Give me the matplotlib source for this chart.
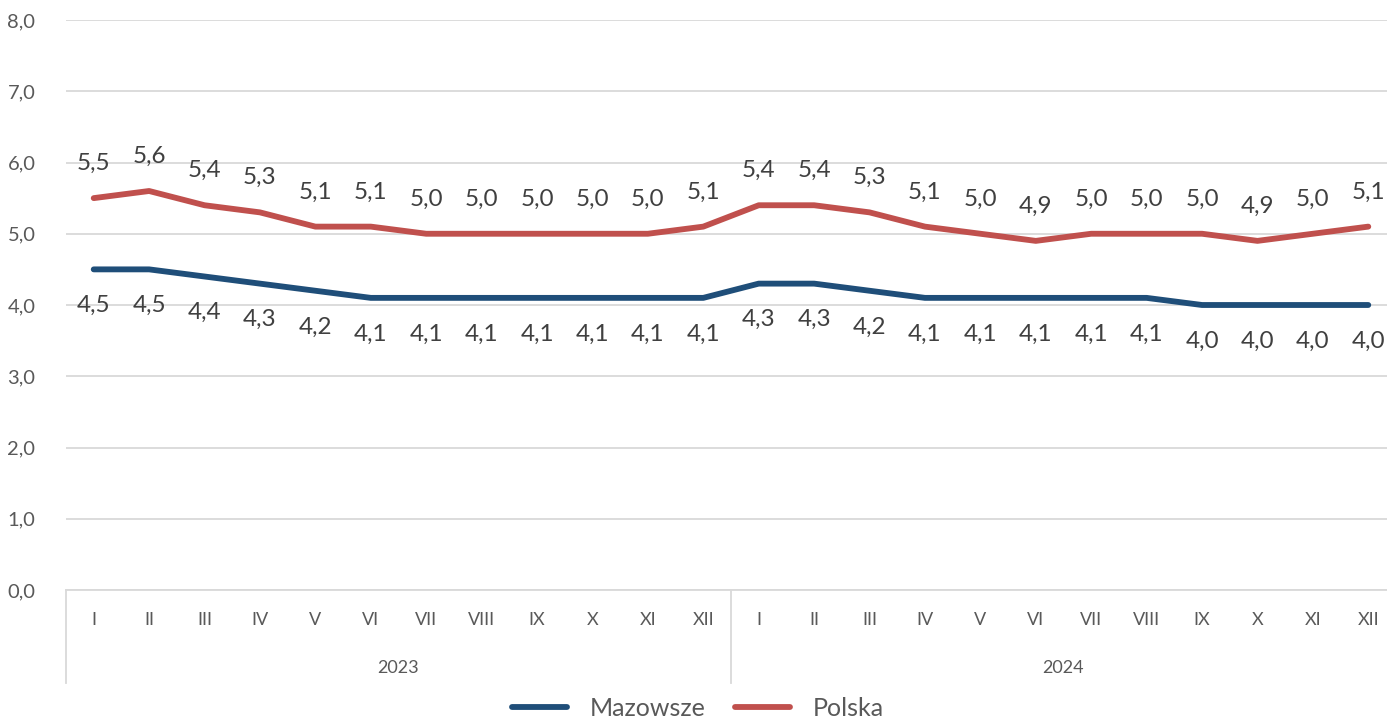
import matplotlib
matplotlib.use("Agg")
import matplotlib.pyplot as plt
from matplotlib.lines import Line2D

plt.rcParams['font.family'] = ['Lato', 'DejaVu Sans']

months = ["I", "II", "III", "IV", "V", "VI", "VII", "VIII", "IX", "X", "XI", "XII"]
years = ["2023", "2024"]
mazowsze = [4.5, 4.5, 4.4, 4.3, 4.2, 4.1, 4.1, 4.1, 4.1, 4.1, 4.1, 4.1,
            4.3, 4.3, 4.2, 4.1, 4.1, 4.1, 4.1, 4.1, 4.0, 4.0, 4.0, 4.0]
polska = [5.5, 5.6, 5.4, 5.3, 5.1, 5.1, 5.0, 5.0, 5.0, 5.0, 5.0, 5.1,
          5.4, 5.4, 5.3, 5.1, 5.0, 4.9, 5.0, 5.0, 5.0, 4.9, 5.0, 5.1]
yticks = [0, 1, 2, 3, 4, 5, 6, 7, 8]

W, H = 1387, 720
fig = plt.figure(figsize=(W / 100, H / 100), dpi=100)
ax = fig.add_axes([66 / W, 1 - 590 / H, 1330 / W, 570 / H])

x = list(range(len(polska)))
c_blue = "#1F4E79"
c_red = "#C0504D"
ax.plot(x, mazowsze, color=c_blue, lw=4.2, solid_capstyle="round", zorder=3)
ax.plot(x, polska, color=c_red, lw=4.2, solid_capstyle="round", zorder=3)

fmt = lambda v: f"{v:.1f}".replace(".", ",")
for xi, v in zip(x, polska):
    ax.annotate(fmt(v), (xi, v), xytext=(0, 25), textcoords="offset points",
                ha="center", va="center", fontsize=17.5, color="#404040")
for xi, v in zip(x, mazowsze):
    ax.annotate(fmt(v), (xi, v), xytext=(0, -26), textcoords="offset points",
                ha="center", va="center", fontsize=17.5, color="#404040")

ax.set_xlim(-0.5, len(x) - 0.5)
ax.set_ylim(0, 8)
ax.set_yticks(yticks)
ax.set_yticklabels([fmt(v) for v in yticks], fontsize=14.5, color="#595959")
ax.yaxis.grid(True, color="#D9D9D9", lw=1.3)
ax.set_axisbelow(True)
for s in ax.spines.values():
    s.set_visible(False)
ax.tick_params(axis="y", length=0, pad=22)
ax.set_xticks([])

# category axis
trans = ax.get_xaxis_transform()
ax.plot([-0.5, len(x) - 0.5], [0, 0], color="#D9D9D9", lw=1.3, transform=trans, clip_on=False)
for xi in x:
    ax.text(xi, -0.052, months[xi % 12], transform=trans, ha="center", va="center",
            fontsize=13, color="#595959")
for i, yr in enumerate(years):
    ax.text(i * 12 + 5.5, -0.137, yr, transform=trans, ha="center", va="center",
            fontsize=13, color="#595959")
for b in [-0.5, 11.5]:
    ax.plot([b, b], [0, -0.163], color="#D9D9D9", lw=1.3, transform=trans, clip_on=False)

handles = [Line2D([], [], color=c_blue, lw=4.2, solid_capstyle="round"),
           Line2D([], [], color=c_red, lw=4.2, solid_capstyle="round")]
leg = fig.legend(handles, ["Mazowsze", "Polska"], loc="center", bbox_to_anchor=(698 / W, 1 - 708 / H),
                 ncol=2, frameon=False, fontsize=18, handlelength=2.2, columnspacing=1.2,
                 handletextpad=0.9, labelcolor="#595959")

fig.savefig("out.png", dpi=100)
